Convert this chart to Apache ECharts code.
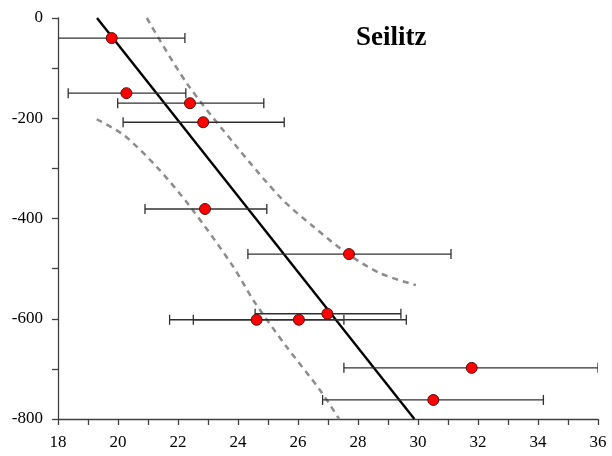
<!DOCTYPE html>
<html>
<head>
<meta charset="utf-8">
<script src="https://cdn.jsdelivr.net/npm/echarts@6/dist/echarts.min.js"></script>
<style>
  html, body { margin: 0; padding: 0; background: #fff; }
  #chart { width: 612px; height: 456px; }
</style>
</head>
<body>
<div id="chart"></div>
<script>
// Measured samples: x value, depth, and the x range of each error bar
const sampleX = [19.79, 20.28, 22.40, 22.84, 22.90, 27.70, 26.98, 24.62, 26.03, 31.79, 30.51];
const sampleDepth = [-40, -150, -170, -208, -381, -471, -590, -602, -602, -698, -762];
const errLow = [17.4, 18.34, 19.99, 20.17, 20.90, 24.33, 24.57, 21.72, 22.51, 27.53, 26.82];
const errHigh = [22.23, 22.26, 24.86, 25.54, 24.96, 31.10, 29.43, 27.53, 29.61, 36.00, 34.18];

// Regression line end points [x, depth]
const fitLine = [[19.30, 0], [29.88, -800]];

// Confidence band curves [x, depth]
const bandUpper = [[20.96, 0], [22.29, -130], [23.96, -257], [25.46, -361], [26.51, -416],
                   [27.62, -469], [28.73, -509], [29.93, -533]];
const bandLower = [[19.29, -202], [20.18, -233], [21.29, -297], [22.40, -376], [23.84, -496],
                   [24.51, -563], [25.62, -656], [26.73, -742], [27.37, -800]];

const errData = sampleX.map((_, i) => [errLow[i], errHigh[i], sampleDepth[i]]);
const pointData = sampleX.map((x, i) => [x, sampleDepth[i]]);

const serif = '"Liberation Serif", "DejaVu Serif", serif';
const axisColor = '#404040';

const chart = echarts.init(document.getElementById('chart'));
chart.setOption({
  animation: false,
  backgroundColor: '#fff',
  title: {
    text: 'Seilitz',
    left: 351,
    top: 20,
    textStyle: { fontFamily: serif, fontWeight: 'bold', fontSize: 27, color: '#000' }
  },
  grid: { left: 58, right: 14, top: 18, bottom: 37 },
  xAxis: {
    type: 'value',
    min: 18, max: 36, interval: 2,
    axisLine: { onZero: false, lineStyle: { color: axisColor, width: 1.3 } },
    axisTick: { show: true, length: 6, lineStyle: { color: axisColor, width: 1.3 } },
    minorTick: { show: true, splitNumber: 2, length: 6, lineStyle: { color: axisColor, width: 1.3 } },
    splitLine: { show: false },
    axisLabel: { fontFamily: serif, fontSize: 17, color: '#000', margin: 15 }
  },
  yAxis: {
    type: 'value',
    min: -800, max: 0, interval: 200,
    axisLine: { show: true, onZero: false, lineStyle: { color: axisColor, width: 1.3 } },
    axisTick: { show: true, length: 6, lineStyle: { color: axisColor, width: 1.3 } },
    minorTick: { show: true, splitNumber: 2, length: 6, lineStyle: { color: axisColor, width: 1.3 } },
    splitLine: { show: false },
    axisLabel: { fontFamily: serif, fontSize: 17, color: '#000', margin: 15 }
  },
  series: [
    {
      type: 'line',
      data: bandUpper,
      smooth: 0.3,
      symbol: 'none',
      lineStyle: { color: '#8c8c8c', width: 2.5, type: [6, 5] },
      z: 1
    },
    {
      type: 'line',
      data: bandLower,
      smooth: 0.3,
      symbol: 'none',
      lineStyle: { color: '#8c8c8c', width: 2.5, type: [6, 5] },
      z: 1
    },
    {
      type: 'line',
      data: fitLine,
      symbol: 'none',
      lineStyle: { color: '#000', width: 2.4 },
      z: 2
    },
    {
      type: 'custom',
      clip: true,
      data: errData,
      encode: { x: [0, 1], y: 2 },
      renderItem: function (params, api) {
        const y = api.value(2);
        const a = api.coord([api.value(0), y]);
        const b = api.coord([api.value(1), y]);
        const h = 5;
        const style = { stroke: '#303030', lineWidth: 1.3, fill: null };
        return {
          type: 'group',
          children: [
            { type: 'line', shape: { x1: a[0], y1: a[1], x2: b[0], y2: b[1] }, style: style },
            { type: 'line', shape: { x1: a[0], y1: a[1] - h, x2: a[0], y2: a[1] + h }, style: style },
            { type: 'line', shape: { x1: b[0], y1: b[1] - h, x2: b[0], y2: b[1] + h }, style: style }
          ]
        };
      },
      z: 3
    },
    {
      type: 'scatter',
      data: pointData,
      symbol: 'circle',
      symbolSize: 11,
      itemStyle: { color: '#ff0000', opacity: 1, borderColor: '#5a1010', borderWidth: 1 },
      z: 4
    }
  ]
});
</script>
</body>
</html>
